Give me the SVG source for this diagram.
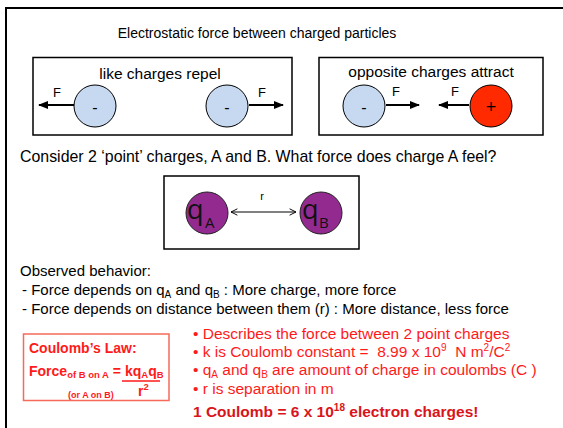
<svg xmlns="http://www.w3.org/2000/svg" width="563" height="428" viewBox="0 0 563 428">
<defs>
<marker id="ah" viewBox="0 0 10 10" refX="9" refY="5" markerWidth="5" markerHeight="5" orient="auto-start-reverse"><path d="M0,1 L10,5 L0,9 z" fill="#000"/></marker>
<marker id="ah2" viewBox="0 0 10 10" refX="9" refY="5" markerWidth="8" markerHeight="8" orient="auto-start-reverse"><path d="M1,1 L9,5 L1,9" fill="none" stroke="#000" stroke-width="1.2"/></marker>
<style>
text{font-family:"Liberation Sans",Arial,sans-serif;}
.box{fill:none;stroke:#000;stroke-width:1.5;}
.neg{fill:#C6D9F0;stroke:#000;stroke-width:1;}
.pos{fill:#FF2A00;stroke:#000;stroke-width:1;}
.q{fill:#932A8F;stroke:#222;stroke-width:1;}
.f{stroke:#000;stroke-width:2;marker-end:url(#ah);}
.t13{font-size:13px;}
.t15{font-size:15.5px;}
.red{fill:#FF1A1A;}
.qt{font-family:"Open Sans","Noto Sans",sans-serif;font-size:27px;fill:#111;}
.qs{font-family:"Open Sans","Noto Sans",sans-serif;font-size:15px;fill:#111;}
</style>
</defs>
<rect width="563" height="428" fill="#fff"/>
<path d="M6,440 L6,8 L570,8" fill="none" stroke="#000" stroke-width="2"/>
<text x="257" y="38" font-size="14" text-anchor="middle">Electrostatic force between charged particles</text>

<g id="like">
<rect x="33" y="57.5" width="259" height="77.5" class="box"/>
<text x="160" y="79" class="t15" text-anchor="middle">like charges repel</text>
<g id="like-a"><ellipse cx="95" cy="106" rx="21" ry="21" class="neg"/><text x="95" y="113" font-size="16" text-anchor="middle">-</text></g>
<g id="like-b"><ellipse cx="227" cy="106" rx="21" ry="21" class="neg"/><text x="227" y="113" font-size="16" text-anchor="middle">-</text></g>
<text x="57" y="97" class="t13" text-anchor="middle">F</text>
<text x="262" y="97" class="t13" text-anchor="middle">F</text>
</g>

<g id="opposite">
<rect x="319" y="57.5" width="224" height="77.5" class="box"/>
<text x="431" y="77" class="t15" text-anchor="middle">opposite charges attract</text>
<g id="opp-a"><ellipse cx="364" cy="106" rx="21" ry="21" class="neg"/><text x="364" y="113" font-size="16" text-anchor="middle">-</text></g>
<g id="opp-b"><ellipse cx="491" cy="106" rx="21" ry="21" class="pos"/><text x="491" y="113" font-size="18" text-anchor="middle">+</text></g>
<text x="396" y="96" class="t13" text-anchor="middle">F</text>
<text x="455" y="96" class="t13" text-anchor="middle">F</text>
</g>

<text x="20" y="162" font-size="15.9">Consider 2 ‘point’ charges, A and B. What force does charge A feel?</text>

<g id="pair">
<rect x="164" y="176" width="195" height="73" class="box"/>
<g id="qA"><circle cx="207" cy="213" r="21" class="q"/><text x="187" y="219" class="qt">q</text><text x="205" y="228" class="qs">A</text></g>
<g id="qB"><circle cx="321" cy="213" r="21" class="q"/><text x="302" y="219" class="qt">q</text><text x="319" y="228" class="qs">B</text></g>
<text x="262" y="200" font-family="Open Sans,sans-serif" font-size="11" text-anchor="middle">r</text>
</g>

<g id="connectors">
<line x1="74" y1="105" x2="39" y2="105" class="f"/>
<line x1="249" y1="105" x2="283" y2="105" class="f"/>
<line x1="386" y1="105" x2="419" y2="105" class="f"/>
<line x1="469" y1="105" x2="439" y2="105" class="f"/>
<line x1="231" y1="212" x2="296" y2="212" stroke="#000" stroke-width="1" marker-start="url(#ah2)" marker-end="url(#ah2)"/>
</g>

<text x="20" y="276" font-size="15">Observed behavior:</text>
<text x="22" y="295" font-size="15">- Force depends on q<tspan font-size="10" dy="3">A</tspan><tspan dy="-3"> and q</tspan><tspan font-size="10" dy="3">B</tspan><tspan dy="-3"> : More charge, more force</tspan></text>
<text x="22" y="314" font-size="15">- Force depends on distance between them (r) : More distance, less force</text>

<g id="coulomb">
<rect x="23.5" y="334" width="145.5" height="66.5" fill="none" stroke="#F56A58" stroke-width="1.5"/>
<text x="29" y="353" font-size="14" font-weight="bold" class="red">Coulomb’s Law:</text>
<text x="29" y="376" font-size="14" font-weight="bold" class="red">Force<tspan font-size="9.5" dy="2">of B on A</tspan><tspan dy="-2"> = kq</tspan><tspan font-size="9.5" dy="2">A</tspan><tspan dy="-2">q</tspan><tspan font-size="9.5" dy="2">B</tspan></text>
<line x1="122" y1="381" x2="160" y2="381" stroke="#FF1A1A" stroke-width="1.5"/>
<text x="138" y="396" font-size="14" font-weight="bold" class="red">r<tspan font-size="9.5" dy="-6">2</tspan></text>
<text x="68" y="398" font-size="9" font-weight="bold" class="red">(or A on B)</text>
</g>

<g class="red" font-size="15.5">
<text x="193" y="339">• Describes the force between 2 point charges</text>
<text x="193" y="357" xml:space="preserve">• k is Coulomb constant =  8.99 x 10<tspan font-size="10" dy="-6">9</tspan><tspan dy="6">  N m</tspan><tspan font-size="10" dy="-6">2</tspan><tspan dy="6">/C</tspan><tspan font-size="10" dy="-6">2</tspan></text>
<text x="193" y="375">• q<tspan font-size="10" dy="3">A</tspan><tspan dy="-3"> and q</tspan><tspan font-size="10" dy="3">B</tspan><tspan dy="-3"> are amount of charge in coulombs (C )</tspan></text>
<text x="193" y="394">• r is separation in m</text>
<text x="193" y="417" font-weight="bold" fill="#D9141B">1 Coulomb = 6 x 10<tspan font-size="10" dy="-6">18</tspan><tspan dy="6"> electron charges!</tspan></text>
</g>
</svg>
